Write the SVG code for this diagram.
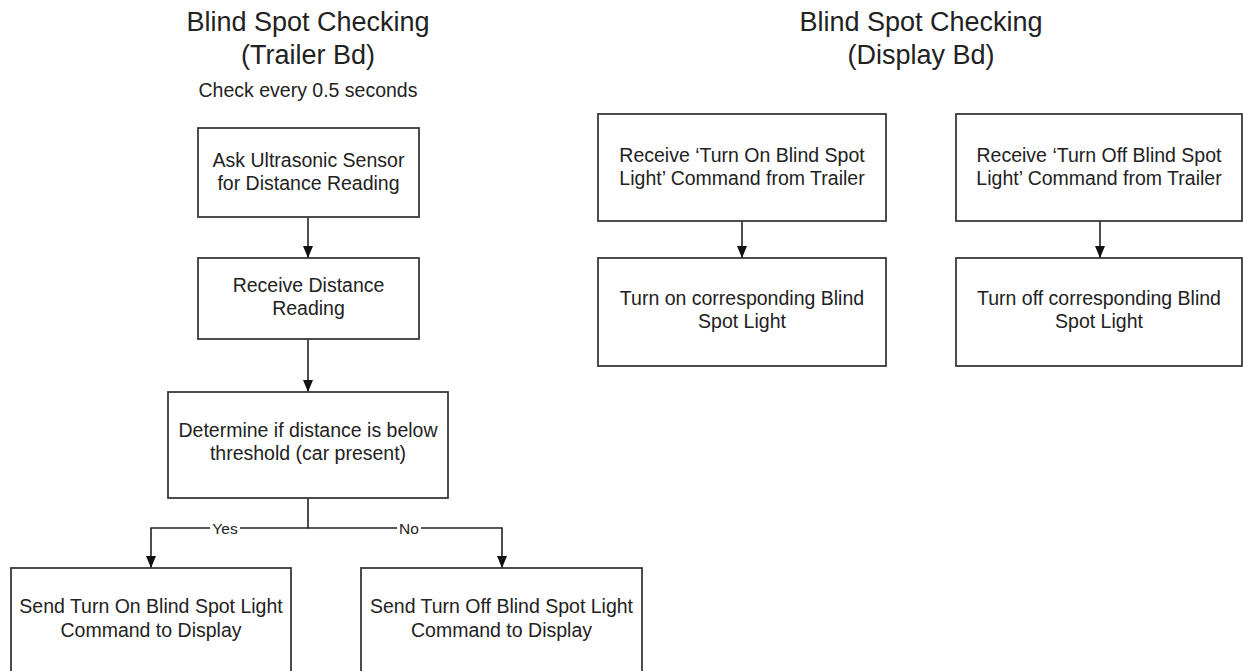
<svg xmlns="http://www.w3.org/2000/svg" width="1243" height="671" viewBox="0 0 1243 671">
<style>
.box{fill:#fff;stroke:#3a3a3a;stroke-width:1.8}
.t{font-family:"Liberation Sans",Arial,sans-serif;font-size:19.5px;fill:#222;text-anchor:middle}
.title{font-family:"Liberation Sans",Arial,sans-serif;font-size:27px;fill:#222;text-anchor:middle}
.lbl{font-family:"Liberation Sans",Arial,sans-serif;font-size:15.5px;fill:#222;text-anchor:middle}
.c{fill:none;stroke:#222;stroke-width:1.6}
</style>
<defs>
<marker id="arr" viewBox="0 0 12 10" refX="12" refY="5" markerWidth="12" markerHeight="10" markerUnits="userSpaceOnUse" orient="auto">
<path d="M0,0 L12,5 L0,10 z" fill="#111"/>
</marker>
</defs>
<rect width="1243" height="671" fill="#fff"/>
<g id="title-trailer">
<text class="title" x="308" y="31">Blind Spot Checking</text>
<text class="title" x="308" y="64">(Trailer Bd)</text>
<text class="t" x="308" y="97">Check every 0.5 seconds</text>
</g>
<g id="title-display">
<text class="title" x="921" y="31">Blind Spot Checking</text>
<text class="title" x="921" y="64">(Display Bd)</text>
</g>
<g id="connectors">
<path class="c" d="M308,217 V258" marker-end="url(#arr)"/>
<path class="c" d="M308,339 V392" marker-end="url(#arr)"/>
<path class="c" d="M308,498 V528 H151 V568" marker-end="url(#arr)"/>
<path class="c" d="M308,528 H502 V568" marker-end="url(#arr)"/>
<path class="c" d="M742,221 V258" marker-end="url(#arr)"/>
<path class="c" d="M1100,221 V258" marker-end="url(#arr)"/>
<rect x="210" y="520" width="30" height="16" fill="#fff"/>
<text class="lbl" x="225" y="533.5">Yes</text>
<rect x="397" y="520" width="24" height="16" fill="#fff"/>
<text class="lbl" x="409" y="533.5">No</text>
</g>
<g id="ask-sensor">
<rect class="box" x="198" y="128" width="221" height="89"/>
<text class="t" x="308.5" y="167">Ask Ultrasonic Sensor</text>
<text class="t" x="308.5" y="190">for Distance Reading</text>
</g>
<g id="receive-distance">
<rect class="box" x="198" y="258" width="221" height="81"/>
<text class="t" x="308.5" y="292">Receive Distance</text>
<text class="t" x="308.5" y="315">Reading</text>
</g>
<g id="determine">
<rect class="box" x="168" y="392" width="280" height="106"/>
<text class="t" x="308" y="437">Determine if distance is below</text>
<text class="t" x="308" y="460">threshold (car present)</text>
</g>
<g id="send-on">
<rect class="box" x="11" y="568" width="280" height="106"/>
<text class="t" x="151" y="613">Send Turn On Blind Spot Light</text>
<text class="t" x="151" y="637">Command to Display</text>
</g>
<g id="send-off">
<rect class="box" x="361" y="568" width="281" height="106"/>
<text class="t" x="501.5" y="613">Send Turn Off Blind Spot Light</text>
<text class="t" x="501.5" y="637">Command to Display</text>
</g>
<g id="receive-on">
<rect class="box" x="598" y="114" width="288" height="107"/>
<text class="t" x="742" y="162">Receive ‘Turn On Blind Spot</text>
<text class="t" x="742" y="185">Light’ Command from Trailer</text>
</g>
<g id="turn-on">
<rect class="box" x="598" y="258" width="288" height="108"/>
<text class="t" x="742" y="305">Turn on corresponding Blind</text>
<text class="t" x="742" y="328">Spot Light</text>
</g>
<g id="receive-off">
<rect class="box" x="956" y="114" width="286" height="107"/>
<text class="t" x="1099" y="162">Receive ‘Turn Off Blind Spot</text>
<text class="t" x="1099" y="185">Light’ Command from Trailer</text>
</g>
<g id="turn-off">
<rect class="box" x="956" y="258" width="286" height="108"/>
<text class="t" x="1099" y="305">Turn off corresponding Blind</text>
<text class="t" x="1099" y="328">Spot Light</text>
</g>
</svg>
